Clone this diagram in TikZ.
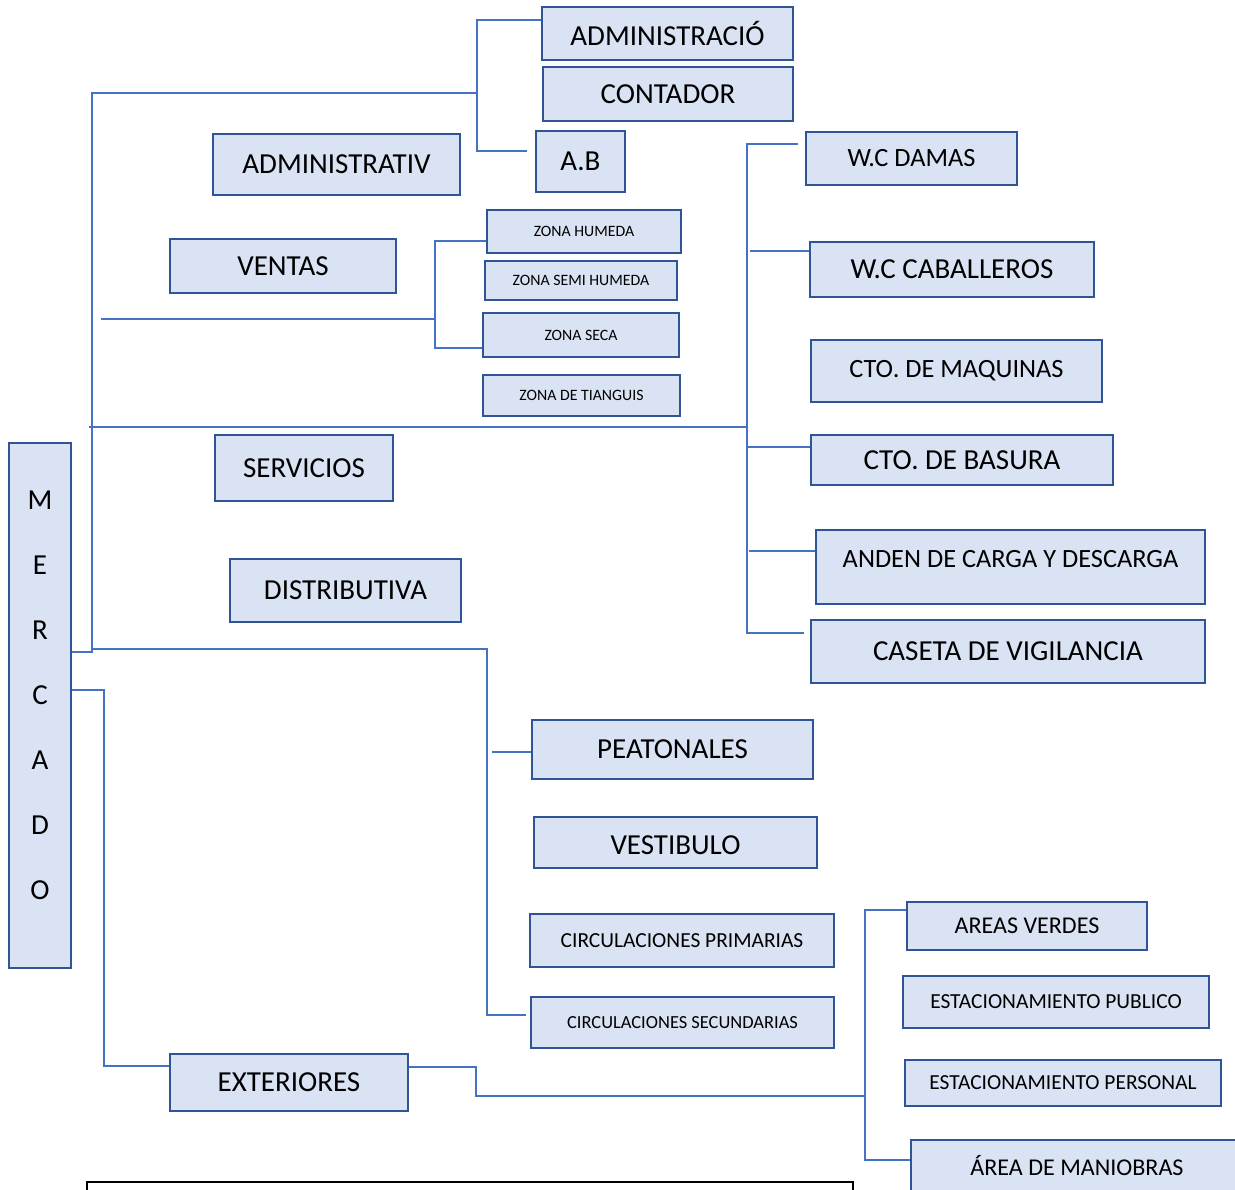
\documentclass[tikz,border=0pt]{standalone}
\usepackage{fontspec}
\setmainfont{Carlito}
\definecolor{relleno}{HTML}{DAE3F3}
\definecolor{borde}{HTML}{2F5597}
\definecolor{linea}{HTML}{4472C4}
\tikzset{
  caja/.style 2 args={draw=borde, line width=1.3pt, fill=relleno, inner sep=0pt,
    minimum width=#1*0.02cm, minimum height=#2*0.02cm},
  conector/.style={draw=linea, line width=0.6pt},
  f1/.style={font=\fontsize{16.5}{19}\selectfont},
  f2/.style={font=\fontsize{15}{18}\selectfont},
  f3/.style={font=\fontsize{15}{18}\selectfont},
  f4/.style={font=\fontsize{12.2}{15}\selectfont},
  f5/.style={font=\fontsize{10.5}{13}\selectfont},
  f6/.style={font=\fontsize{9}{11}\selectfont}
}
\begin{document}
\begin{tikzpicture}[x=0.02cm, y=-0.02cm]
\useasboundingbox (0,0) rectangle (1235,1190);
\clip (0,0) rectangle (1235,1190);
% raiz
\node[caja={62}{525}, label={[yshift=0.21cm, align=center, font=\fontsize{16.5}{37}\selectfont]center:{M\\E\\R\\C\\A\\D\\O}}] (mercado) at (40,705.5) {};
% administrativo
\node[caja={247}{61}, f1] (administrativo) at (336.5,164.5) {ADMINISTRATIV};
\node[caja={251}{53}, f1] (adm) at (667.5,33.5) {ADMINISTRACIÓ};
\node[caja={250}{54}, f1] (contador) at (668,94) {CONTADOR};
\node[caja={89}{61}, f1] (ab) at (580.5,161.5) {A.B};
% ventas
\node[caja={226}{54}, f1] (ventas) at (283,266) {VENTAS};
\node[caja={194}{43}, f6] (zh) at (584,231.5) {ZONA HUMEDA};
\node[caja={192}{39}, f6] (zsh) at (581,280.5) {ZONA SEMI HUMEDA};
\node[caja={196}{44}, f6] (zs) at (581,335) {ZONA SECA};
\node[caja={197}{41}, f6] (zt) at (581.5,395.5) {ZONA DE TIANGUIS};
% servicios
\node[caja={178}{66}, f1] (servicios) at (304,468) {SERVICIOS};
\node[caja={211}{53}, f2] (wcd) at (911.5,158.5) {W.C DAMAS};
\node[caja={284}{55}, f1] (wcc) at (952,269.5) {W.C CABALLEROS};
\node[caja={291}{62}, f3] (maq) at (956.5,371) {CTO. DE MAQUINAS};
\node[caja={302}{50}, f1] (basura) at (962,460) {CTO. DE BASURA};
\node[caja={389}{74}, f2, text height=0.3cm, text depth=0.3cm] (anden) at (1010.5,567) {ANDEN DE CARGA Y DESCARGA};
\node[caja={394}{63}, f1] (caseta) at (1008,651.5) {CASETA DE VIGILANCIA};
% distributiva
\node[caja={231}{63}, f1] (distributiva) at (345.5,590.5) {DISTRIBUTIVA};
\node[caja={281}{59}, f1] (peat) at (672.5,749.5) {PEATONALES};
\node[caja={283}{51}, f1, text height=0.48cm] (vest) at (675.5,842.5) {VESTIBULO};
\node[caja={304}{53}, f4] (cprim) at (682,940.5) {CIRCULACIONES PRIMARIAS};
\node[caja={303}{51}, f5] (csec) at (682.5,1022.5) {CIRCULACIONES SECUNDARIAS};
% exteriores
\node[caja={238}{57}, f1] (ext) at (289,1082.5) {EXTERIORES};
\node[caja={240}{48}, font=\fontsize{13.7}{16}\selectfont] (av) at (1027,926) {AREAS VERDES};
\node[caja={306}{52}, f4] (ep) at (1056,1002) {ESTACIONAMIENTO PUBLICO};
\node[caja={316}{46}, f4] (epers) at (1063,1083) {ESTACIONAMIENTO PERSONAL};
\node[caja={332}{52}, font=\fontsize{13.7}{16}\selectfont] (am) at (1077,1166) {ÁREA DE MANIOBRAS};
% uniones
\coordinate (tronco) at (92,652);
\coordinate (tadm) at (477,93);
\coordinate (tven) at (435,319);
\coordinate (tser) at (747,427);
\coordinate (tdis) at (487,649);
\coordinate (text) at (104,690);
\coordinate (tsal) at (476,1096);
\coordinate (tpat) at (865,1096);
% conectores
\draw[conector] (mercado.east |- tronco) -- (tronco) |- (tadm);
\draw[conector] (adm.west |- 0,20) -| (tadm) |- (527,151);
\draw[conector] (101,319) -- (tven);
\draw[conector] (zh.west |- 0,241) -| (tven) |- (zs.west |- 0,348);
\draw[conector] (89,427) -- (tser);
\draw[conector] (798,144) -| (tser) |- (804,633);
\draw[conector] (750,251) -- (wcc.west |- 0,251);
\draw[conector] (747,447) -- (basura.west |- 0,447);
\draw[conector] (749,551) -- (anden.west |- 0,551);
\draw[conector] (92,649) -- (tdis) |- (526,1015);
\draw[conector] (492,752) -- (peat.west |- 0,752);
\draw[conector] (mercado.east |- text) -- (text) |- (ext.west |- 0,1066);
\draw[conector] (ext.east |- 0,1067) -| (tsal) -- (tpat);
\draw[conector] (av.west |- 0,910) -| (tpat) |- (am.west |- 0,1160);
% recuadro inferior
\draw[black, line width=1.2pt] (87,1200) -- (87,1182) -- (853,1182) -- (853,1200);
\end{tikzpicture}
\end{document}
